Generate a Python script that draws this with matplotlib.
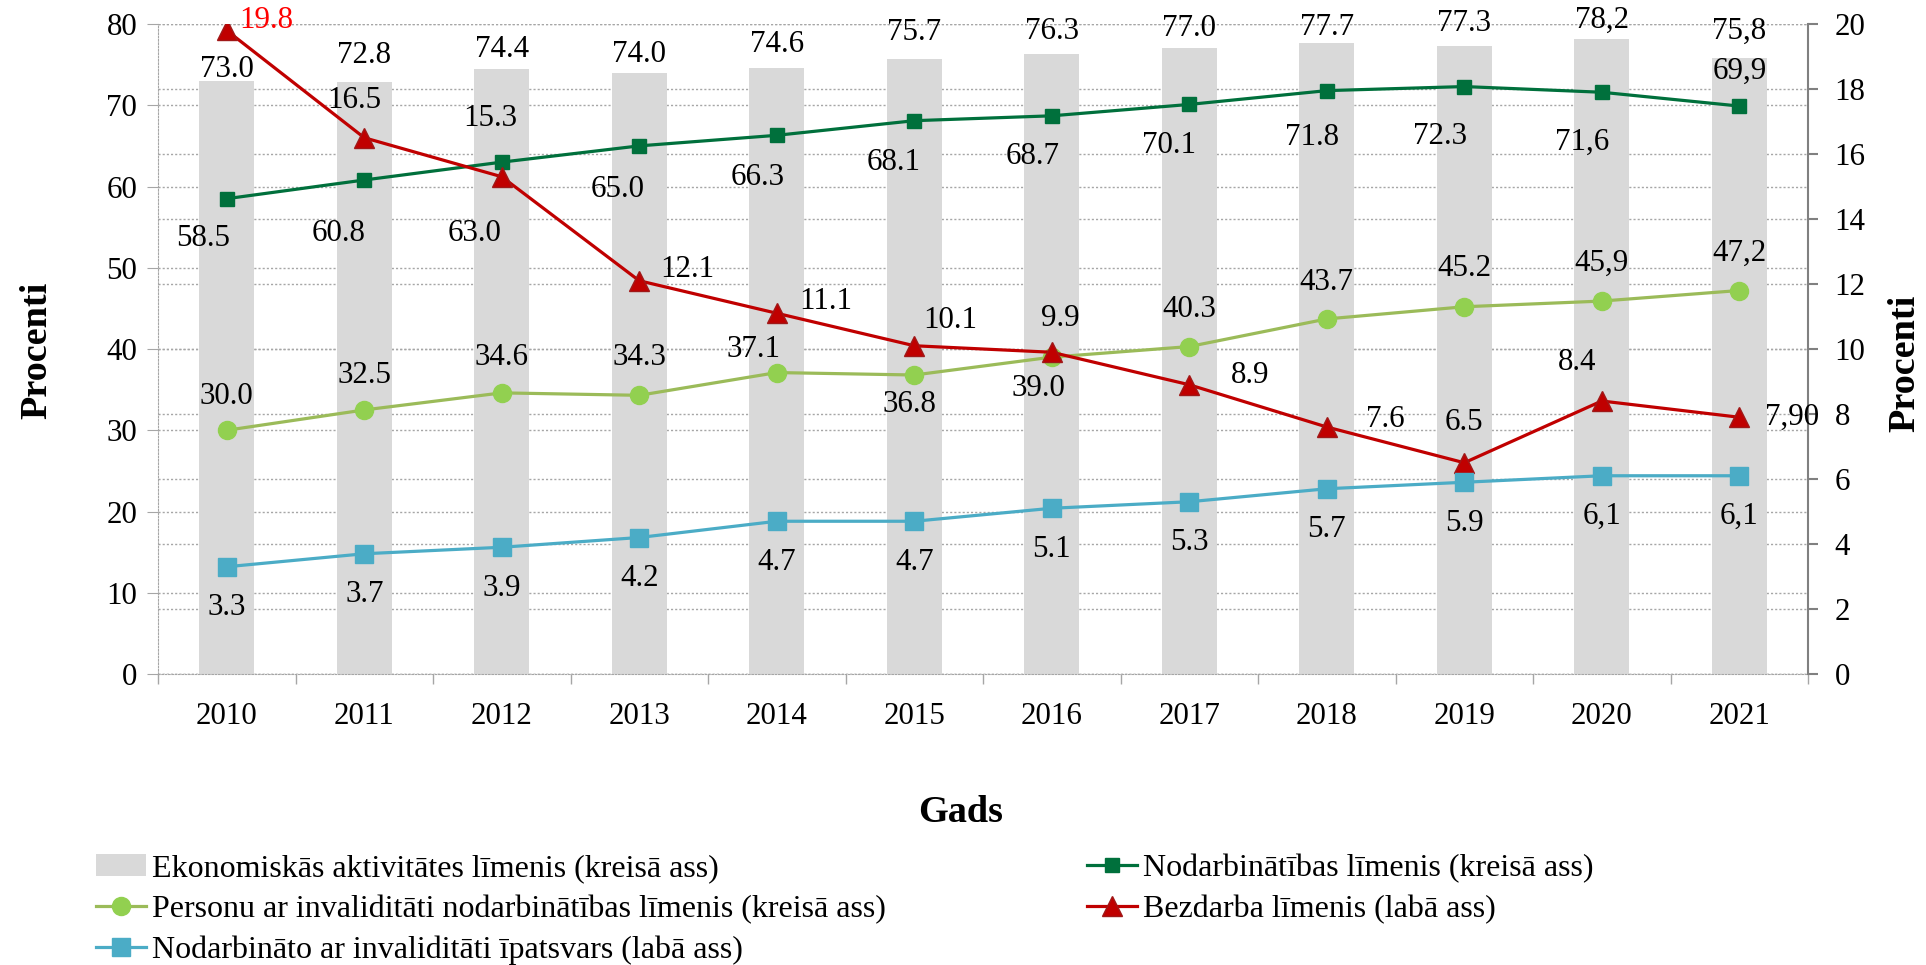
import matplotlib
matplotlib.use("Agg")
import matplotlib.pyplot as plt
from matplotlib.patches import Patch
from matplotlib.lines import Line2D
from matplotlib.transforms import blended_transform_factory
import numpy as np

plt.rcParams['font.family'] = ['Liberation Serif', 'DejaVu Serif']

years = ["2010", "2011", "2012", "2013", "2014", "2015", "2016", "2017", "2018", "2019", "2020", "2021"]
activity = [73.0, 72.8, 74.4, 74.0, 74.6, 75.7, 76.3, 77.0, 77.7, 77.3, 78.2, 75.8]
activity_lbl = ["73.0", "72.8", "74.4", "74.0", "74.6", "75.7", "76.3", "77.0", "77.7", "77.3", "78,2", "75,8"]
employment = [58.5, 60.8, 63.0, 65.0, 66.3, 68.1, 68.7, 70.1, 71.8, 72.3, 71.6, 69.9]
employment_lbl = ["58.5", "60.8", "63.0", "65.0", "66.3", "68.1", "68.7", "70.1", "71.8", "72.3", "71,6", "69,9"]
disabled_emp = [30.0, 32.5, 34.6, 34.3, 37.1, 36.8, 39.0, 40.3, 43.7, 45.2, 45.9, 47.2]
disabled_emp_lbl = ["30.0", "32.5", "34.6", "34.3", "37.1", "36.8", "39.0", "40.3", "43.7", "45.2", "45,9", "47,2"]
unemployment = [19.8, 16.5, 15.3, 12.1, 11.1, 10.1, 9.9, 8.9, 7.6, 6.5, 8.4, 7.9]
unemployment_lbl = ["19.8", "16.5", "15.3", "12.1", "11.1", "10.1", "9.9", "8.9", "7.6", "6.5", "8.4", "7,90"]
disabled_share = [3.3, 3.7, 3.9, 4.2, 4.7, 4.7, 5.1, 5.3, 5.7, 5.9, 6.1, 6.1]
disabled_share_lbl = ["3.3", "3.7", "3.9", "4.2", "4.7", "4.7", "5.1", "5.3", "5.7", "5.9", "6,1", "6,1"]

names = ["Ekonomiskās aktivitātes līmenis (kreisā ass)",
         "Nodarbinātības līmenis (kreisā ass)",
         "Personu ar invaliditāti nodarbinātības līmenis (kreisā ass)",
         "Bezdarba līmenis (labā ass)",
         "Nodarbināto ar invaliditāti īpatsvars (labā ass)"]

# label placement offsets (pixels, y up)
off_bar = [(0, 11), (0, 27), (0, 20), (0, 18), (0, 23), (0, 26), (0, 23), (0, 20), (0, 15), (0, 22), (0, 18), (0, 27)]
off_emp = [(-24, -40), (-26, -53), (-27, -71), (-22, -44), (-19, -42), (-21, -42), (-19, -41), (-20, -41),
           (-15, -47), (-24, -50), (-20, -50), (0, 35)]
off_dis = [(0, 34), (0, 34), (0, 35), (0, 38), (-23, 23), (-5, -29), (-13, -31), (0, 37), (0, 36), (0, 38), (0, 38), (0, 37)]
off_unemp = [(39, 10), (-10, 37), (-12, 58), (48, 11), (49, 12), (36, 25), (9, 34), (61, 9), (59, 8), (0, 40), (-25, 39), (53, 0)]
off_share = [(0, -41)] * 12

C_BAR = "#D9D9D9"
C_EMP = "#00703C"
C_DIS_LINE = "#9BBB59"
C_DIS_MK = "#92D050"
C_UNEMP = "#C00000"
C_SHARE = "#4BACC6"
C_GRID = "#A6A6A6"
FS = 22.3
FS_LEG = 23
FS_T = 27.5

fig = plt.figure(figsize=(19.26, 9.65), dpi=100)
ax = fig.add_axes([0.08204, 0.30155, 0.85670, 0.67358])
ax2 = ax.twinx()

x = np.arange(len(years))
ax.set_xlim(-0.5, len(years) - 0.5)
ax.set_ylim(0, 80)
ax2.set_ylim(0, 20)

left_ticks = np.arange(0, 81, 10)
right_ticks = np.arange(0, 21, 2)
ax.set_yticks(left_ticks)
ax2.set_yticks(right_ticks)

# grid lines (left + right scale), below bars
for t in left_ticks:
    ax.axhline(t, color=C_GRID, lw=1.0, ls=(0, (1.5, 1.5)), zorder=0.5)
btrans = blended_transform_factory(ax.transAxes, ax2.transData)
for t in right_ticks:
    ax.plot([0, 1], [t, t], transform=btrans, color=C_GRID, lw=1.0, ls=(0, (1.5, 1.5)), zorder=0.5)

bars = ax.bar(x, activity, width=0.4, color=C_BAR, zorder=1)
l_emp, = ax.plot(x, employment, color=C_EMP, lw=2.3, marker='s', ms=10, zorder=3)
l_dis, = ax.plot(x, disabled_emp, color=C_DIS_LINE, lw=2.3, marker='o', ms=13,
                 markerfacecolor=C_DIS_MK, markeredgecolor=C_DIS_MK, zorder=3)
l_unemp, = ax2.plot(x, unemployment, color=C_UNEMP, lw=2.3, marker='^', ms=14,
                    markeredgecolor="#A01818", zorder=3)
l_share, = ax2.plot(x, disabled_share, color=C_SHARE, lw=2.3, marker='s', ms=13, zorder=3)

def lab(axis, xs, ys, texts, offs, colors=None):
    for i, (xi, yi, t, o) in enumerate(zip(xs, ys, texts, offs)):
        c = colors[i] if colors else "black"
        axis.annotate(t, (xi, yi), xytext=o, textcoords='offset pixels', ha='center', va='center',
                      fontsize=FS, color=c, zorder=5)

lab(ax, x, activity, activity_lbl, off_bar)
lab(ax, x, employment, employment_lbl, off_emp)
lab(ax, x, disabled_emp, disabled_emp_lbl, off_dis)
lab(ax2, x, unemployment, unemployment_lbl, off_unemp, colors=["#FF0000"] + ["black"] * 11)
lab(ax2, x, disabled_share, disabled_share_lbl, off_share)

# axes styling
ax.set_xticks(x)
ax.set_xticklabels(years, fontsize=FS)
ax.set_xticks(np.arange(-0.5, len(years), 1.0), minor=True)
ax.tick_params(axis='x', which='major', length=0, pad=20)
ax.tick_params(axis='x', which='minor', length=7, color=C_GRID, width=1)
ax.tick_params(axis='y', which='major', length=8, color=C_GRID, labelsize=FS, pad=7)
ax2.tick_params(axis='y', which='major', length=7, color="#808080", width=1.5, labelsize=FS, pad=12)
for sp in ['top']:
    ax.spines[sp].set_visible(False)
    ax2.spines[sp].set_visible(False)
ax.spines['right'].set_visible(False)
ax.spines['left'].set_color(C_GRID)
ax.spines['left'].set_linestyle((0, (1.5, 1.5)))
ax.spines['bottom'].set_color(C_GRID)
ax.spines['bottom'].set_linestyle((0, (1.5, 1.5)))
ax2.spines['left'].set_visible(False)
ax2.spines['bottom'].set_visible(False)
ax2.spines['right'].set_color("#808080")
ax2.spines['right'].set_linewidth(1.5)

fig.text(37 / 1926, 1 - 350 / 965, "Procenti", rotation=90, ha='center', va='center',
         fontsize=FS_T, fontweight='bold')
fig.text(1905 / 1926, 1 - 363 / 965, "Procenti", rotation=90, ha='center', va='center',
         fontsize=FS_T, fontweight='bold')
fig.text(961 / 1926, 1 - 812 / 965, "Gads", ha='center', va='center', fontsize=FS_T, fontweight='bold')

h_bar = Patch(facecolor=C_BAR, edgecolor='none')
h_emp = Line2D([], [], color=C_EMP, lw=2.3, marker='s', ms=10)
h_dis = Line2D([], [], color=C_DIS_LINE, lw=2.3, marker='o', ms=13, markerfacecolor=C_DIS_MK, markeredgecolor=C_DIS_MK)
h_unemp = Line2D([], [], color=C_UNEMP, lw=2.3, marker='^', ms=14, markeredgecolor="#A01818")
h_share = Line2D([], [], color=C_SHARE, lw=2.3, marker='s', ms=13)

fig.legend([h_bar, h_dis, h_share, h_emp, h_unemp],
           [names[0], names[2], names[4], names[1], names[3]],
           ncol=2, loc='upper left', bbox_to_anchor=(96 / 1926, 1 - 854 / 965),
           frameon=False, fontsize=FS_LEG, borderpad=0, borderaxespad=0,
           handlelength=1.55, handletextpad=0.2, labelspacing=0.36, columnspacing=6.3)

fig.savefig("out.png", dpi=100)
